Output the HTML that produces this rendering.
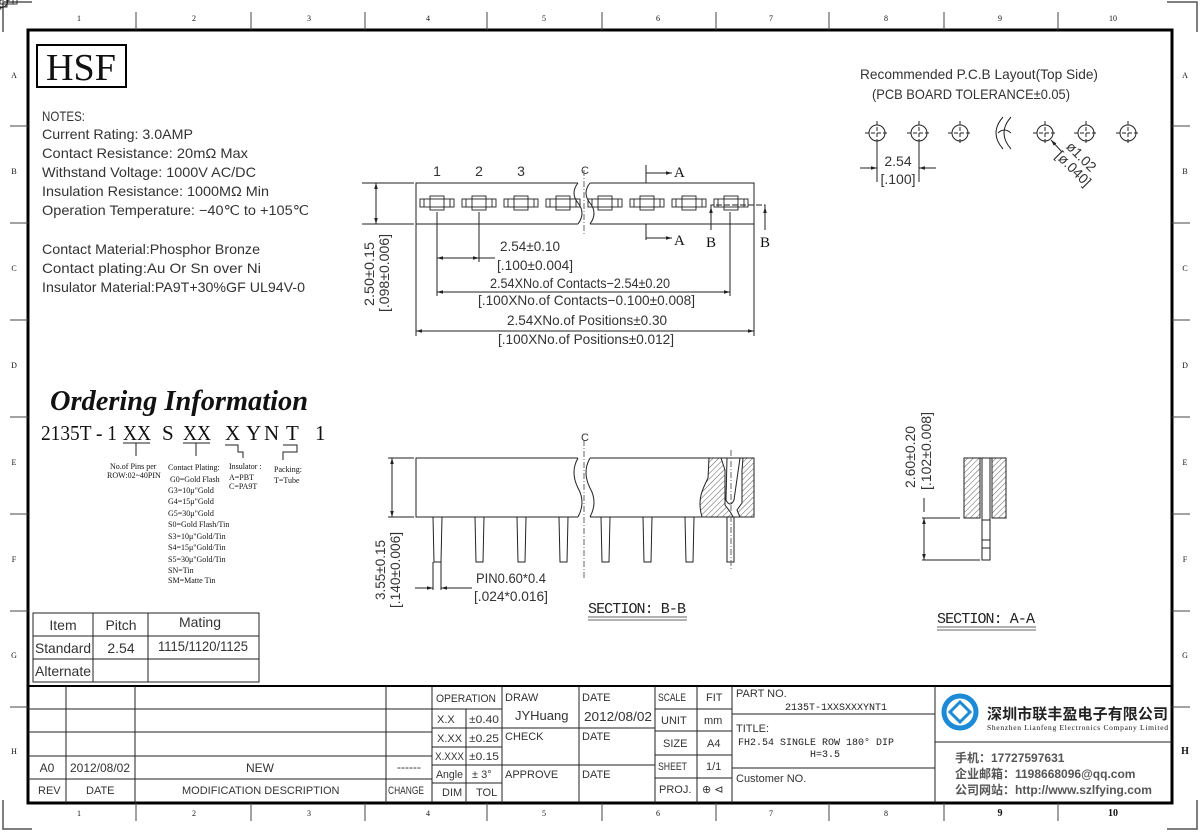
<!DOCTYPE html>
<html><head><meta charset="utf-8"><style>
html,body{margin:0;padding:0;background:#fff;}
svg{display:block;}
.n{font-family:"Liberation Sans",sans-serif;fill:#333;}
.s{font-family:"Liberation Serif",serif;fill:#111;}
.m{font-family:"Liberation Mono",monospace;fill:#222;}
</style></head><body>
<svg width="1200" height="832" viewBox="0 0 1200 832" xmlns="http://www.w3.org/2000/svg">
<defs>
<marker id="ar" viewBox="0 0 10 10" refX="10" refY="5" markerWidth="8" markerHeight="6" orient="auto-start-reverse"><path d="M0,2 L10,5 L0,8 z" fill="#222"/></marker>
<pattern id="h" width="4" height="4" patternUnits="userSpaceOnUse" patternTransform="rotate(45)"><line x1="0" y1="0" x2="0" y2="4" stroke="#333" stroke-width="0.8"/></pattern>
</defs>
<g stroke="#555" stroke-width="1.5" fill="none">
<path d="M32,2 H3 V32"/><path d="M1167,2 H1197 V32"/><path d="M3,800 V829 H32"/><path d="M1197,800 V829 H1167"/>
</g>
<rect x="28" y="30" width="1144" height="773" fill="none" stroke="#000" stroke-width="3"/>
<g stroke="#444" stroke-width="1">
<path d="M136,12 V30 M251,12 V30 M365,12 V30 M487,12 V30 M602,12 V30 M716,12 V30 M829,12 V30 M944,12 V30 M1058,12 V30"/>
<path d="M136,803 V821 M251,803 V821 M365,803 V821 M487,803 V821 M602,803 V821 M716,803 V821 M829,803 V821 M944,803 V821 M1058,803 V821"/>
<path d="M10,126 H28 M10,223 H28 M10,320 H28 M10,417 H28 M10,514 H28 M10,611 H28 M10,707 H28"/>
<path d="M1172,126 H1190 M1172,223 H1190 M1172,320 H1190 M1172,417 H1190 M1172,514 H1190 M1172,611 H1190 M1172,707 H1190"/>
</g>
<g class="s" font-size="8" text-anchor="middle">
<text x="79" y="21">1</text><text x="194" y="21">2</text><text x="309" y="21">3</text><text x="428" y="21">4</text><text x="544" y="21">5</text><text x="658" y="21">6</text><text x="771" y="21">7</text><text x="886" y="21">8</text><text x="1000" y="21">9</text><text x="1113" y="21">10</text>
<text x="79" y="816">1</text><text x="194" y="816">2</text><text x="309" y="816">3</text><text x="428" y="816">4</text><text x="544" y="816">5</text><text x="658" y="816">6</text><text x="771" y="816">7</text><text x="886" y="816">8</text><text x="1000" y="816" font-size="10" font-weight="bold">9</text><text x="1113" y="816" font-size="10" font-weight="bold">10</text>
<text x="14" y="78">A</text><text x="14" y="174">B</text><text x="14" y="271">C</text><text x="14" y="368">D</text><text x="14" y="465">E</text><text x="14" y="562">F</text><text x="14" y="658">G</text><text x="14" y="754">H</text>
<text x="1185" y="78">A</text><text x="1185" y="174">B</text><text x="1185" y="271">C</text><text x="1185" y="368">D</text><text x="1185" y="465">E</text><text x="1185" y="562">F</text><text x="1185" y="658">G</text><text x="1185" y="754" font-size="10" font-weight="bold">H</text>
</g>
<rect x="37" y="45" width="89" height="42" fill="none" stroke="#000" stroke-width="2"/>
<text class="s" x="81" y="80" font-size="38" text-anchor="middle" textLength="70" lengthAdjust="spacingAndGlyphs">HSF</text>
<g class="n" font-size="14" lengthAdjust="spacingAndGlyphs">
<text x="42" y="121" textLength="43" lengthAdjust="spacingAndGlyphs">NOTES:</text>
<text x="42" y="139" textLength="151" lengthAdjust="spacingAndGlyphs">Current Rating: 3.0AMP</text>
<text x="42" y="158" textLength="206" lengthAdjust="spacingAndGlyphs">Contact Resistance: 20mΩ Max</text>
<text x="42" y="177" textLength="214" lengthAdjust="spacingAndGlyphs">Withstand Voltage: 1000V AC/DC</text>
<text x="42" y="196" textLength="227" lengthAdjust="spacingAndGlyphs">Insulation Resistance: 1000MΩ Min</text>
<text x="42" y="215" textLength="267" lengthAdjust="spacingAndGlyphs">Operation Temperature: −40℃ to +105℃</text>
<text x="42" y="254" textLength="218" lengthAdjust="spacingAndGlyphs">Contact Material:Phosphor Bronze</text>
<text x="42" y="273" textLength="219" lengthAdjust="spacingAndGlyphs">Contact plating:Au Or Sn over Ni</text>
<text x="42" y="292" textLength="263" lengthAdjust="spacingAndGlyphs">Insulator Material:PA9T+30%GF UL94V-0</text>
</g>
<g stroke="#222" stroke-width="1" fill="none">
<path d="M578,183 H416 V224 H578"/><path d="M590,183 H754 V224 H590"/>
<path d="M578,183 q-8,10 0,20 q8,10 0,21"/><path d="M590,183 q-8,10 0,20 q8,10 0,21"/>
</g>
<g stroke="#222" stroke-width="0.9" fill="none">
<g id="ct"><rect x="-17" y="-4" width="34" height="8"/><rect x="-7" y="-7" width="14" height="14"/><line x1="-13" y1="-4" x2="-13" y2="4"/><line x1="13" y1="-4" x2="13" y2="4"/></g>
</g>
<g stroke="#222" stroke-width="0.9" fill="none">
<use href="#ct" x="437" y="203"/><use href="#ct" x="479" y="203"/><use href="#ct" x="521" y="203"/><use href="#ct" x="563" y="203"/><use href="#ct" x="605" y="203"/><use href="#ct" x="647" y="203"/><use href="#ct" x="689" y="203"/><use href="#ct" x="731" y="203"/>
</g>
<g class="n" font-size="14" text-anchor="middle"><text x="437" y="176">1</text><text x="479" y="176">2</text><text x="521" y="176">3</text></g>
<text class="n" x="585" y="174" font-size="11" fill="#888" text-anchor="middle">C</text>
<line x1="584" y1="170" x2="584" y2="236" stroke="#666" stroke-dasharray="6,2,1,2"/>
<g stroke="#222" stroke-width="1" fill="none">
<path d="M646,165 V183 M646,224 V240"/>
<path d="M646,173 H672" marker-end="url(#ar)"/><path d="M646,238 H672" marker-end="url(#ar)"/>
<path d="M437,212 V262 M479,212 V262 M437,262 V296 M730,212 V296 M416,224 V336 M754,224 V336"/>
<path d="M711,224 V205 H765 V224" stroke-dasharray="6,2"/>
<path d="M711,230 V207" marker-end="url(#ar)"/><path d="M765,230 V207" marker-end="url(#ar)"/>
<path d="M437,258 H479" marker-start="url(#ar)" marker-end="url(#ar)"/><path d="M479,258 H495"/>
<path d="M437,292 H730" marker-start="url(#ar)" marker-end="url(#ar)"/>
<path d="M416,331 H754" marker-start="url(#ar)" marker-end="url(#ar)"/>
<path d="M362,183 H414 M362,224 H414"/>
<path d="M376,183 V224" marker-start="url(#ar)" marker-end="url(#ar)"/>
</g>
<g class="s" font-size="15"><text x="674" y="177">A</text><text x="674" y="245">A</text><text x="706" y="247">B</text><text x="760" y="247">B</text></g>
<g class="n" font-size="14">
<text x="500" y="251" textLength="60" lengthAdjust="spacingAndGlyphs">2.54±0.10</text><text x="497" y="270" textLength="76" lengthAdjust="spacingAndGlyphs">[.100±0.004]</text>
<text x="490" y="288" textLength="180" lengthAdjust="spacingAndGlyphs">2.54XNo.of Contacts−2.54±0.20</text><text x="478" y="305" textLength="217" lengthAdjust="spacingAndGlyphs">[.100XNo.of Contacts−0.100±0.008]</text>
<text x="507" y="325" textLength="160" lengthAdjust="spacingAndGlyphs">2.54XNo.of Positions±0.30</text><text x="498" y="344" textLength="176" lengthAdjust="spacingAndGlyphs">[.100XNo.of Positions±0.012]</text>
<text transform="translate(374,306) rotate(-90)" textLength="64" lengthAdjust="spacingAndGlyphs">2.50±0.15</text><text transform="translate(389,312) rotate(-90)" textLength="78" lengthAdjust="spacingAndGlyphs">[.098±0.006]</text>
</g>
<g class="n" font-size="14"><text x="860" y="79" textLength="238" lengthAdjust="spacingAndGlyphs">Recommended P.C.B Layout(Top Side)</text><text x="872" y="99" textLength="198" lengthAdjust="spacingAndGlyphs">(PCB BOARD TOLERANCE±0.05)</text></g>
<g stroke="#222" stroke-width="1" fill="none">
<g id="hc"><circle r="8"/><path d="M-12,0 H12 M0,-12 V12" stroke-dasharray="4,2"/></g>
</g>
<g stroke="#222" stroke-width="1" fill="none">
<use href="#hc" x="877" y="133"/><use href="#hc" x="919" y="133"/><use href="#hc" x="960" y="133"/><use href="#hc" x="1045" y="133"/><use href="#hc" x="1086" y="133"/><use href="#hc" x="1128" y="133"/>
<path d="M1003,117 q-14,16 0,32 M1011,117 q-14,16 0,32 M998,133 q6,-6 13,0"/>
<path d="M877,143 V182 M919,143 V182"/>
<path d="M860,168 H877" marker-end="url(#ar)"/><path d="M936,168 H919" marker-end="url(#ar)"/>
<path d="M1062,152 L1051,140" marker-end="url(#ar)"/>
</g>
<g class="n" font-size="14" text-anchor="middle"><text x="898" y="166">2.54</text><text x="898" y="184">[.100]</text>
<text transform="translate(1078,160) rotate(45)">ø1.02</text><text transform="translate(1070,172) rotate(45)">[ø.040]</text></g>
<text class="s" x="50" y="410" font-size="29" font-weight="bold" font-style="italic" textLength="258" lengthAdjust="spacingAndGlyphs">Ordering Information</text>
<g class="s" font-size="21">
<text x="41" y="440" textLength="76" lengthAdjust="spacingAndGlyphs">2135T - 1</text><text x="123" y="440" textLength="28" lengthAdjust="spacingAndGlyphs">XX</text><text x="162" y="440">S</text><text x="183" y="440" textLength="28" lengthAdjust="spacingAndGlyphs">XX</text><text x="225" y="440">X</text><text x="246" y="440">Y</text><text x="264" y="440">N</text><text x="286" y="440">T</text><text x="315" y="440">1</text>
</g>
<g stroke="#222" stroke-width="1" fill="none">
<path d="M123,443 H150 M136,443 V456"/><path d="M183,443 H210 M196,443 V456"/>
<path d="M225,445 H238 V452 H243 V458"/><path d="M283,445 H297 V452 H283 V460"/>
</g>
<g class="s" font-size="8">
<text x="110" y="469">No.of Pins per</text><text x="107" y="478">ROW:02~40PIN</text>
<text x="168" y="470">Contact Plating:</text>
<text x="170" y="482">G0=Gold Flash</text><text x="168" y="493">G3=10μ"Gold</text><text x="168" y="504">G4=15μ"Gold</text><text x="168" y="516">G5=30μ"Gold</text><text x="168" y="527">S0=Gold Flash/Tin</text><text x="168" y="539">S3=10μ"Gold/Tin</text><text x="168" y="550">S4=15μ"Gold/Tin</text><text x="168" y="562">S5=30μ"Gold/Tin</text><text x="168" y="573">SN=Tin</text><text x="168" y="583">SM=Matte Tin</text>
<text x="229" y="469">Insulator :</text><text x="229" y="480">A=PBT</text><text x="229" y="489">C=PA9T</text>
<text x="274" y="472">Packing:</text><text x="274" y="483">T=Tube</text>
</g>
<g stroke="#222" stroke-width="1" fill="none"><rect x="33" y="613" width="226" height="69"/><path d="M33,636 H259 M33,659 H259 M93,613 V682 M148,613 V682"/></g>
<g class="n" font-size="14" text-anchor="middle"><text x="63" y="630">Item</text><text x="121" y="630">Pitch</text><text x="200" y="627">Mating</text><text x="63" y="653" textLength="56" lengthAdjust="spacingAndGlyphs">Standard</text><text x="121" y="653">2.54</text><text x="203" y="651" textLength="90" lengthAdjust="spacingAndGlyphs">1115/1120/1125</text><text x="63" y="676" textLength="56" lengthAdjust="spacingAndGlyphs">Alternate</text></g>
<g stroke="#222" stroke-width="1" fill="none">
<path d="M578,458 H416 V517 H578"/><path d="M590,458 H754 V517 H590"/>
<path d="M578,458 q-8,14 0,30 q8,14 0,29"/><path d="M590,458 q-8,14 0,30 q8,14 0,29"/>
<path d="M433,517 L434,562 H441 L442,517 M475,517 L476,562 H483 L484,517 M517,517 L518,562 H525 L526,517 M559,517 L560,562 H567 L568,517 M601,517 L602,562 H609 L610,517 M643,517 L644,562 H651 L652,517 M685,517 L686,562 H693 L694,517"/>
<path d="M727,517 V562 H734 V517"/>
<path d="M388,458 H414 M388,517 H414 M433,562 V590 M441,562 V590"/>
<path d="M392,458 V517" marker-start="url(#ar)" marker-end="url(#ar)"/>
<path d="M415,588 H433" marker-end="url(#ar)"/><path d="M460,588 H441" marker-end="url(#ar)"/><path d="M460,588 H472"/>
</g>
<path d="M709,458 H721 L725,470 V505 L731,513 L733,517 H702 C697,500 702,490 708,478 Z" fill="url(#h)" stroke="#222"/>
<path d="M743,458 H754 V517 H740 L737,510 L742,503 V470 Z" fill="url(#h)" stroke="#222"/>
<path d="M727,458 L726,500 Q730,508 734,500 L740,458" fill="none" stroke="#222"/>
<line x1="584" y1="440" x2="584" y2="580" stroke="#666" stroke-dasharray="6,2,1,2"/>
<line x1="731" y1="450" x2="731" y2="570" stroke="#666" stroke-dasharray="6,2,1,2"/>
<text class="n" x="585" y="441" font-size="11" fill="#888" text-anchor="middle">C</text>
<g class="n" font-size="14">
<text x="476" y="583" textLength="70" lengthAdjust="spacingAndGlyphs">PIN0.60*0.4</text><text x="474" y="601" textLength="74" lengthAdjust="spacingAndGlyphs">[.024*0.016]</text>
<text transform="translate(385,600) rotate(-90)" textLength="60" lengthAdjust="spacingAndGlyphs">3.55±0.15</text><text transform="translate(400,608) rotate(-90)" textLength="76" lengthAdjust="spacingAndGlyphs">[.140±0.006]</text>
<text transform="translate(915,488) rotate(-90)" textLength="62" lengthAdjust="spacingAndGlyphs">2.60±0.20</text><text transform="translate(931,490) rotate(-90)" textLength="78" lengthAdjust="spacingAndGlyphs">[.102±0.008]</text>
</g>
<text class="m" x="588" y="613" font-size="15" textLength="98">SECTION: B-B</text>
<path d="M588,617 H687 M588,620 H687" stroke="#666" fill="none"/>
<text class="m" x="937" y="623" font-size="15" textLength="98">SECTION: A-A</text>
<path d="M937,627 H1036 M937,630 H1036" stroke="#666" fill="none"/>
<rect x="964" y="458" width="16" height="60" fill="url(#h)" stroke="#222"/>
<rect x="992" y="458" width="14" height="60" fill="url(#h)" stroke="#222"/>
<g stroke="#222" stroke-width="1" fill="none">
<path d="M980,458 H992 M982,458 V560 H990 V458 M982,520 H990 M982,540 H990 M982,548 H990"/>
<path d="M922,518 H960 M922,560 H980 M924,498 V512"/>
<path d="M924,518 V560" marker-start="url(#ar)" marker-end="url(#ar)"/>
</g>
<g stroke="#000" stroke-width="2" fill="none"><path d="M28,686 H1172"/></g>
<g stroke="#222" stroke-width="1" fill="none">
<path d="M28,709 H432 M28,732 H432 M28,756 H432 M28,779 H432"/>
<path d="M66,686 V803 M135,686 V803 M386,686 V803 M432,686 V803 M466,709 V803 M502,686 V803 M579,686 V803 M655,686 V803 M697,686 V803 M732,686 V803 M935,686 V803"/>
<path d="M432,709 H502 M432,728 H502 M432,747 H502 M432,765 H502 M432,783 H502"/>
<path d="M502,728 H655 M502,765 H655"/>
<path d="M655,709 H732 M655,731 H732 M655,755 H732 M655,778 H732"/>
<path d="M732,714 H935 M732,768 H935 M935,742 H1172"/>
</g>
<g class="n" font-size="11" fill="#000">
<text x="436" y="702" textLength="60" lengthAdjust="spacingAndGlyphs">OPERATION</text><text x="437" y="723">X.X</text><text x="469" y="723" textLength="30" lengthAdjust="spacingAndGlyphs">±0.40</text><text x="437" y="742">X.XX</text><text x="469" y="742" textLength="30" lengthAdjust="spacingAndGlyphs">±0.25</text><text x="435" y="760" textLength="29" lengthAdjust="spacingAndGlyphs">X.XXX</text><text x="469" y="760" textLength="30" lengthAdjust="spacingAndGlyphs">±0.15</text><text x="436" y="778" textLength="27" lengthAdjust="spacingAndGlyphs">Angle</text><text x="472" y="778">± 3°</text><text x="442" y="796">DIM</text><text x="476" y="796">TOL</text>
<text x="505" y="701">DRAW</text><text x="582" y="701">DATE</text><text x="505" y="740">CHECK</text><text x="582" y="740">DATE</text><text x="505" y="778">APPROVE</text><text x="582" y="778">DATE</text>
<text x="658" y="701" textLength="28" lengthAdjust="spacingAndGlyphs">SCALE</text><text x="706" y="701">FIT</text><text x="661" y="724">UNIT</text><text x="704" y="724">mm</text><text x="663" y="747">SIZE</text><text x="707" y="747">A4</text><text x="658" y="770" textLength="29" lengthAdjust="spacingAndGlyphs">SHEET</text><text x="706" y="770">1/1</text><text x="659" y="793">PROJ.</text><text x="702" y="793">⊕ ⊲</text>
<text x="736" y="697">PART NO.</text><text x="736" y="732">TITLE:</text><text x="736" y="782">Customer NO.</text>
<text x="38" y="794">REV</text><text x="86" y="794">DATE</text><text x="182" y="794">MODIFICATION DESCRIPTION</text><text x="388" y="794" textLength="36" lengthAdjust="spacingAndGlyphs">CHANGE</text>
</g>
<g class="n" font-size="13" fill="#777"><text x="515" y="720">JYHuang</text><text x="584" y="721" textLength="68" lengthAdjust="spacingAndGlyphs">2012/08/02</text></g>
<g class="n" font-size="12" fill="#555" text-anchor="middle"><text x="47" y="772">A0</text><text x="100" y="772">2012/08/02</text><text x="260" y="772">NEW</text><text x="409" y="771">------</text></g>
<g class="m" font-size="10" fill="#222"><text x="785" y="710">2135T-1XXSXXXYNT1</text><text x="738" y="745">FH2.54 SINGLE ROW 180° DIP</text><text x="810" y="757">H=3.5</text></g>
<circle cx="960" cy="712" r="16" fill="none" stroke="#1c8ad6" stroke-width="5"/>
<path d="M960,702 L970,712 L960,722 L950,712 Z" fill="none" stroke="#1c8ad6" stroke-width="3"/>
<text x="987" y="719" font-family="'Noto Sans CJK SC',sans-serif" font-size="15" font-weight="bold" fill="#222" textLength="181">深圳市联丰盈电子有限公司</text>
<text class="s" x="987" y="730" font-size="7.5" fill="#333" textLength="181">Shenzhen Lianfeng Electronics Company Limited</text>
<g font-family="'Liberation Sans','Noto Sans CJK SC',sans-serif" font-size="12" font-weight="bold" fill="#555">
<text x="955" y="762">手机：17727597631</text><text x="955" y="778">企业邮箱：1198668096@qq.com</text><text x="955" y="794">公司网站：http://www.szlfying.com</text>
</g>
</svg>
</body></html>
